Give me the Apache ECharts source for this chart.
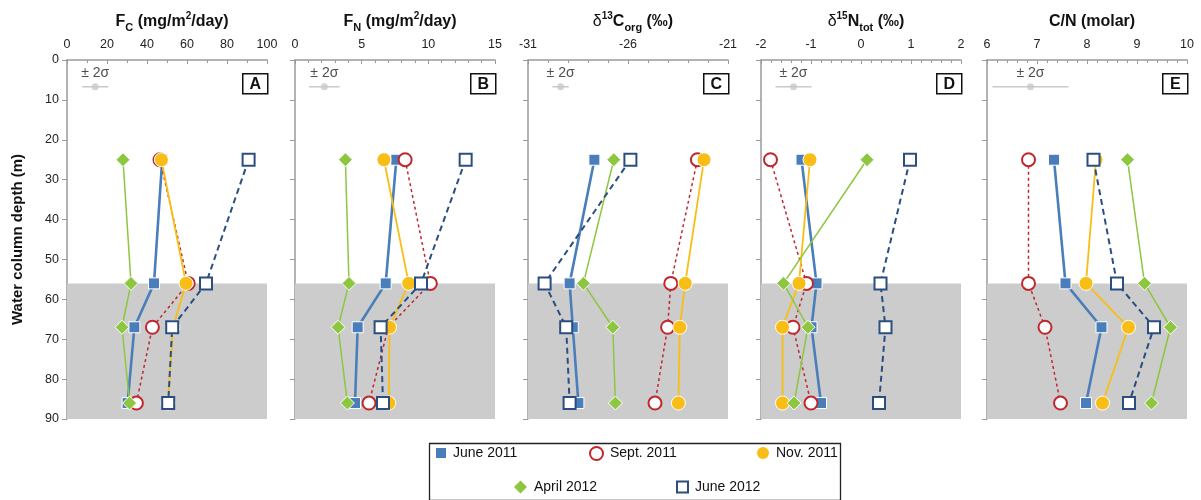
<!DOCTYPE html>
<html><head><meta charset="utf-8">
<script src="https://cdn.jsdelivr.net/npm/echarts@6/dist/echarts.min.js"></script>
<style>html,body{margin:0;padding:0;background:#fff;}#c{width:1201px;height:500px;}</style>
</head><body><div id="c"></div>
<script>
// ---- data ----
const depths = [25, 56, 67, 86];            // trap depths (m)
const shadeTop = 56;                         // top of shaded layer (m)
const depthMax = 90;
const panelLetters = ['A', 'B', 'C', 'D', 'E'];
const xMin = [0, 0, -31, -2, 6];
const xMax = [100, 15, -21, 2, 10];
const xStep = [20, 5, 5, 1, 1];
const xMinorSplit = [2, 5, 5, 5, 5];
// values per panel [A: FC, B: FN, C: d13C, D: d15N, E: C/N], each at depths 25,56,67,86
const june2011  = [[47.6, 43.5, 33.7, 30.3], [7.6, 6.8, 4.7, 4.5], [-27.68, -28.92, -28.76, -28.48], [-1.19, -0.89, -0.99, -0.80], [7.34, 7.57, 8.29, 7.98]];
const sept2011  = [[46.5, 60.6, 42.7, 34.7], [8.26, 10.15, 7.0, 5.55], [-22.53, -23.86, -24.02, -24.65], [-1.81, -1.09, -1.36, -1.0], [6.83, 6.83, 7.16, 7.47]];
const nov2011   = [[47.2, 59.5, 53.0, 50.5], [6.67, 8.53, 7.09, 7.04], [-22.2, -23.14, -23.41, -23.48], [-1.02, -1.24, -1.57, -1.57], [8.18, 7.98, 8.83, 8.31]];
const april2012 = [[28.0, 32.0, 27.5, 31.3], [3.78, 4.05, 3.23, 3.93], [-26.71, -28.23, -26.76, -26.63], [0.12, -1.55, -1.06, -1.34], [8.81, 9.15, 9.67, 9.29]];
const june2012  = [[90.8, 69.5, 52.6, 50.6], [12.8, 9.45, 6.42, 6.6], [-25.88, -30.17, -29.09, -28.92], [0.98, 0.39, 0.49, 0.36], [8.13, 8.60, 9.34, 8.84]];
// ±2σ analytical uncertainty bars: center and half-width, drawn at depth sigmaDepth
const sigmaCenter = [14.1, 2.2, -29.37, -1.35, 6.87];
const sigmaHalf = [6.5, 1.15, 0.41, 0.36, 0.76];
const sigmaDepth = 6.7;
const seriesNames = ['June 2011', 'Sept. 2011', 'Nov. 2011', 'April 2012', 'June 2012'];
const seriesData = [june2011, sept2011, nov2011, april2012, june2012];

// ---- styles ----
const FONT = 'Liberation Sans';
const C_BLUE = '#4A7EBB', C_RED = '#C0272D', C_GOLD = '#F8BE15', C_GREEN = '#8DC63F', C_NAVY = '#2B4E80';
const styles = [
  {symbol: 'rect', symbolSize: 11, itemStyle: {color: C_BLUE, borderColor: '#fff', borderWidth: 1}, lineStyle: {color: C_BLUE, width: 2.6, type: 'solid'}},
  {symbol: 'circle', symbolSize: 13, itemStyle: {color: '#fff', borderColor: C_RED, borderWidth: 2}, lineStyle: {color: C_RED, width: 1.5, type: [3, 3]}},
  {symbol: 'circle', symbolSize: 14, itemStyle: {color: C_GOLD, borderColor: '#fff', borderWidth: 1}, lineStyle: {color: C_GOLD, width: 1.8, type: 'solid'}},
  {symbol: 'diamond', symbolSize: 14, itemStyle: {color: C_GREEN, borderColor: '#fff', borderWidth: 1}, lineStyle: {color: C_GREEN, width: 1.5, type: 'solid'}},
  {symbol: 'rect', symbolSize: 12, itemStyle: {color: '#fff', borderColor: C_NAVY, borderWidth: 2}, lineStyle: {color: C_NAVY, width: 2, type: [6, 4]}}
];

const gridLeft = [67, 295, 528, 761, 987];
const gridW = 200, gridTop = 60, gridH = 359;

const titleRich = {
  b: {fontFamily: FONT, fontSize: 16, fontWeight: 'bold', color: '#111', lineHeight: 22, verticalAlign: 'middle'},
  n: {fontFamily: FONT, fontSize: 16, fontWeight: 'normal', color: '#111', lineHeight: 22, verticalAlign: 'middle'},
  sub: {fontFamily: FONT, fontSize: 11, fontWeight: 'bold', color: '#111', lineHeight: 22, verticalAlign: 'bottom', padding: [8, 0, 0, 0]},
  sup: {fontFamily: FONT, fontSize: 10, fontWeight: 'bold', color: '#111', lineHeight: 22, verticalAlign: 'top', padding: [0, 0, 8, 0]}
};
const titleTexts = [
  '{b|F}{sub|C}{b| (mg/m}{sup|2}{b|/day)}',
  '{b|F}{sub|N}{b| (mg/m}{sup|2}{b|/day)}',
  '{n|δ}{sup|13}{b|C}{sub|org}{b| (‰)}',
  '{n|δ}{sup|15}{b|N}{sub|tot}{b| (‰)}',
  '{b|C/N (molar)}'
];

const grids = [], xAxes = [], yAxes = [], series = [], titles = [], graphics = [];
for (let p = 0; p < 5; p++) {
  grids.push({left: gridLeft[p], top: gridTop, width: gridW, height: gridH});
  titles.push({text: titleTexts[p], left: gridLeft[p] + gridW / 2, top: 6, textAlign: 'center',
    textStyle: {rich: titleRich}});
  xAxes.push({gridIndex: p, type: 'value', position: 'top', min: xMin[p], max: xMax[p], interval: xStep[p],
    axisLine: {show: true, onZero: false, lineStyle: {color: '#9a9a9a', width: 1.5}},
    axisTick: {show: true, inside: true, length: 4, lineStyle: {color: '#9a9a9a'}},
    minorTick: {show: true, splitNumber: xMinorSplit[p], length: 3, lineStyle: {color: '#9a9a9a'}},
    splitLine: {show: false},
    axisLabel: {fontFamily: FONT, fontSize: 12.5, color: '#222', margin: 9}});
  yAxes.push({gridIndex: p, type: 'value', inverse: true, min: 0, max: depthMax, interval: 10,
    name: p === 0 ? 'Water column depth (m)' : '', nameLocation: 'middle', nameGap: 42,
    nameTextStyle: {fontFamily: FONT, fontSize: 15, fontWeight: 'bold', color: '#111'},
    axisLine: {show: true, onZero: false, lineStyle: {color: '#9a9a9a', width: 1.5}},
    axisTick: {show: true, length: 5, lineStyle: {color: '#9a9a9a'}},
    splitLine: {show: false},
    axisLabel: {show: p === 0, fontFamily: FONT, fontSize: 12.5, color: '#222', margin: 8}});
  // shaded layer + sigma bar
  series.push({type: 'line', name: 'sigma' + p, xAxisIndex: p, yAxisIndex: p, silent: true,
    data: [[sigmaCenter[p] - sigmaHalf[p], sigmaDepth], [sigmaCenter[p] + sigmaHalf[p], sigmaDepth]],
    symbol: 'none', lineStyle: {color: '#c9c9c9', width: 1.5}, z: 1,
    markArea: {silent: true, itemStyle: {color: '#cccccc'}, data: [[{yAxis: shadeTop}, {yAxis: depthMax}]]}});
  series.push({type: 'scatter', name: 'sigmaDot' + p, xAxisIndex: p, yAxisIndex: p, silent: true,
    data: [[sigmaCenter[p], sigmaDepth]], symbol: 'circle', symbolSize: 7,
    itemStyle: {color: '#c9c9c9'}, z: 1,
    label: {show: true, position: 'top', distance: 3, formatter: '± 2σ', fontFamily: FONT, fontSize: 14, color: '#222'}});
  for (let s = 0; s < 5; s++) {
    const st = styles[s];
    series.push({type: 'line', name: seriesNames[s], xAxisIndex: p, yAxisIndex: p,
      data: depths.map((d, i) => [seriesData[s][p][i], d]),
      symbol: st.symbol, symbolSize: st.symbolSize, showSymbol: true, showAllSymbol: true,
      itemStyle: st.itemStyle, lineStyle: st.lineStyle, z: 3 + s, emphasis: {disabled: true}});
  }
  // panel letter box
  graphics.push({type: 'group', left: gridLeft[p] + gridW - 25, top: 73, children: [
    {type: 'rect', shape: {x: 0, y: 0, width: 25, height: 20}, style: {fill: '#fff', stroke: '#111', lineWidth: 1.5}},
    {type: 'text', x: 12.5, y: 10.5, style: {text: panelLetters[p], fontFamily: FONT, fontSize: 16, fontWeight: 'bold', fill: '#111', align: 'center', verticalAlign: 'middle'}}
  ]});
}
// legend frame
graphics.push({type: 'rect', left: 427, top: 441, shape: {x: 0, y: 0, width: 411, height: 57}, style: {fill: 'none', stroke: '#222', lineWidth: 1.3}, z: 0});

const legendPos = [[436, 446], [589, 446], [757, 446], [514, 480], [676, 480]];
const legendIcons = ['rect', 'circle', 'circle', 'diamond', 'rect'];
const legendSize = [10, 13, 12, 13, 11];
const legends = seriesNames.map((n, i) => ({
  data: [{name: n, icon: legendIcons[i],
    itemStyle: {color: styles[i].itemStyle.color === '#fff' ? '#fff' : styles[i].itemStyle.color,
      borderColor: styles[i].itemStyle.color === '#fff' ? styles[i].itemStyle.borderColor : styles[i].itemStyle.color,
      borderWidth: styles[i].itemStyle.color === '#fff' ? 2 : 0}}],
  left: legendPos[i][0], top: legendPos[i][1], padding: 0, itemGap: 0,
  itemWidth: legendSize[i], itemHeight: legendSize[i],
  textStyle: {fontFamily: FONT, fontSize: 14, color: '#111', padding: [0, 0, 0, 2]},
  selectedMode: false
}));

const chart = echarts.init(document.getElementById('c'), null, {renderer: 'canvas'});
chart.setOption({
  animation: false,
  backgroundColor: '#fff',
  title: titles,
  grid: grids,
  xAxis: xAxes,
  yAxis: yAxes,
  legend: legends,
  series: series,
  graphic: graphics
});
</script></body></html>
